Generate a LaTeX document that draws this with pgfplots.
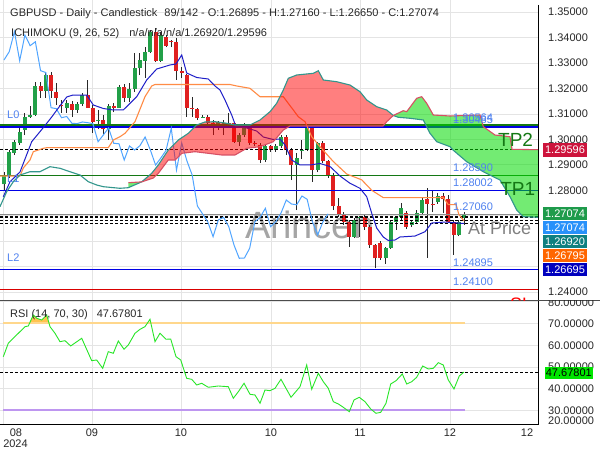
\documentclass[border=0pt]{standalone}
\usepackage{fontspec}
\setmainfont{Liberation Sans}
\usepackage{pgfplots}
\usepackage{pgfplotstable}
\pgfplotsset{compat=1.18}

\definecolor{cgreen}{RGB}{34,160,72}
\definecolor{cred}{RGB}{224,32,32}
\definecolor{tenkan}{RGB}{30,30,200}
\definecolor{kijun}{RGB}{255,140,70}
\definecolor{chikou}{RGB}{80,165,255}
\definecolor{spanA}{RGB}{50,150,140}
\definecolor{spanB}{RGB}{215,80,100}
\definecolor{gridc}{RGB}{228,228,228}
\definecolor{lvlblue}{RGB}{0,0,230}
\definecolor{lvlgreen}{RGB}{20,120,20}
\definecolor{lbl}{RGB}{80,130,240}
\definecolor{txt}{RGB}{40,40,40}
\definecolor{rsig}{RGB}{40,230,40}
\definecolor{cloudR}{RGB}{255,0,0}
\definecolor{cloudG}{RGB}{0,220,0}

% green candles: i O H L C
\pgfplotstableread{
i O H L C
0 1.28235 1.28718 1.28011 1.28573
1 1.28550 1.29583 1.28483 1.29516
2 1.29477 1.29977 1.29387 1.29887
3 1.29847 1.30449 1.29780 1.30303
4 1.30370 1.31038 1.30173 1.30869
5 1.30893 1.31313 1.30842 1.30940
6 1.30959 1.32268 1.30920 1.32099
8 1.31914 1.32610 1.31628 1.32531
12 1.31246 1.31549 1.31038 1.31431
14 1.31156 1.31470 1.31038 1.31392
15 1.31392 1.31824 1.31313 1.31746
18 1.30724 1.31156 1.30409 1.30743
20 1.30409 1.31392 1.29977 1.31313
22 1.31246 1.32138 1.31235 1.32072
24 1.31639 1.32217 1.31470 1.31981
25 1.31981 1.33396 1.31863 1.32807
26 1.32795 1.33396 1.32531 1.33121
27 1.33093 1.33632 1.32414 1.33447
28 1.33447 1.34300 1.33396 1.34234
30 1.33093 1.34222 1.33042 1.34104
38 1.30873 1.30959 1.30842 1.30900
41 1.30606 1.30724 1.30370 1.30685
42 1.30500 1.30763 1.30173 1.30657
45 1.29910 1.30252 1.29741 1.30173
46 1.30173 1.30645 1.30095 1.30449
50 1.29190 1.29780 1.29111 1.29741
52 1.29583 1.29820 1.29505 1.29752
53 1.29741 1.30173 1.29662 1.30095
56 1.28993 1.29466 1.27225 1.29269
57 1.29536 1.29977 1.29230 1.29568
58 1.29583 1.30488 1.29544 1.30437
60 1.28797 1.29898 1.28718 1.29859
67 1.26176 1.26911 1.26124 1.26832
68 1.26911 1.26989 1.26164 1.26938
73 1.25327 1.25771 1.25103 1.25720
74 1.25743 1.26832 1.25693 1.26765
75 1.26765 1.26989 1.26439 1.26938
76 1.26962 1.27500 1.26832 1.27292
78 1.26635 1.26832 1.26557 1.26765
79 1.26765 1.27225 1.26714 1.27107
80 1.27107 1.27697 1.27068 1.27618
83 1.27539 1.27893 1.27461 1.27775
87 1.26242 1.26832 1.26203 1.26753
88 1.26895 1.27160 1.26650 1.27074
}\greentab

% red candles: i O H L C
\pgfplotstableread{
i O H L C
7 1.32099 1.32256 1.31628 1.31914
9 1.32531 1.32649 1.31628 1.31914
10 1.31875 1.32217 1.31352 1.31639
11 1.31352 1.31549 1.31038 1.31313
13 1.31392 1.31510 1.30881 1.31156
16 1.31746 1.32335 1.31235 1.31246
17 1.31246 1.31352 1.30252 1.30696
19 1.30763 1.30959 1.30173 1.30409
21 1.31313 1.31431 1.31077 1.31235
23 1.32072 1.32178 1.31470 1.31639
29 1.34234 1.34379 1.33042 1.33093
31 1.34038 1.34104 1.33632 1.33684
32 1.33868 1.33907 1.33632 1.33837
33 1.33828 1.33986 1.32335 1.32700
34 1.32689 1.32846 1.32414 1.32629
35 1.32531 1.32571 1.30893 1.31246
36 1.31242 1.31679 1.30893 1.31210
37 1.31195 1.31235 1.30763 1.30853
39 1.30893 1.30959 1.30488 1.30633
40 1.30645 1.30763 1.30173 1.30621
43 1.30645 1.31038 1.30449 1.30621
44 1.30633 1.30685 1.29859 1.29910
47 1.30449 1.30488 1.29780 1.29847
48 1.29859 1.29938 1.29741 1.29828
49 1.29780 1.29859 1.29072 1.29190
51 1.29741 1.29780 1.29505 1.29583
54 1.30095 1.30173 1.29387 1.29583
55 1.29583 1.29662 1.28404 1.28993
59 1.30437 1.30468 1.28337 1.28797
61 1.29859 1.29938 1.29072 1.29151
62 1.29151 1.29190 1.28483 1.28600
63 1.28600 1.28679 1.27225 1.27382
64 1.27382 1.27697 1.26950 1.27068
65 1.27068 1.27146 1.26635 1.26753
66 1.26753 1.26832 1.25784 1.26176
69 1.26938 1.27068 1.26439 1.26569
70 1.26569 1.26635 1.25732 1.25850
71 1.25850 1.25889 1.24934 1.25327
72 1.25928 1.26006 1.25260 1.25339
77 1.27107 1.27186 1.26478 1.26569
81 1.27657 1.28090 1.25339 1.27461
82 1.27461 1.28011 1.27146 1.27430
84 1.27775 1.27893 1.27107 1.27645
85 1.27657 1.27814 1.26753 1.26765
86 1.26765 1.26832 1.25457 1.26242
}\redtab

% Senkou span A (teal edge)
\pgfplotstableread{
i p
-0.77 1.27355
0.52 1.27945
1.78 1.28337
3.06 1.28601
4.97 1.28730
6.89 1.28730
8.80 1.28927
10.71 1.28864
12.63 1.28730
14.54 1.28601
16.13 1.28337
17.73 1.28208
19.00 1.28141
22.19 1.28078
23.78 1.28102
26.34 1.28330
28.26 1.28668
29.52 1.28994
31.43 1.29583
33.35 1.29977
35.26 1.30240
36.87 1.30566
38.45 1.30684
40.37 1.30696
42.28 1.30645
44.19 1.30566
47.06 1.30566
48.98 1.30763
50.89 1.31089
52.17 1.31419
53.43 1.31942
54.39 1.32402
56.00 1.32532
59.17 1.32598
60.13 1.32700
61.09 1.32335
63.65 1.32268
66.19 1.32138
68.10 1.31876
69.39 1.31549
71.30 1.31285
73.22 1.31156
74.48 1.30940
75.43 1.30869
77.67 1.30830
80.22 1.30763
81.50 1.30240
82.78 1.29910
85.33 1.29713
85.90 1.29583
88.52 1.29124
91.70 1.28730
94.89 1.28404
96.80 1.27748
98.09 1.27225
99.35 1.26962
102.16 1.26939
}\spanAtab

% Senkou span B (red edge)
\pgfplotstableread{
i p
23.78 1.28298
26.34 1.28330
28.56 1.28483
29.52 1.28668
31.43 1.29190
32.72 1.29190
34.00 1.29453
36.54 1.29517
39.08 1.29453
41.65 1.29387
44.19 1.29387
46.43 1.29650
48.98 1.29713
51.52 1.29910
53.43 1.30370
54.72 1.30527
72.51 1.30527
73.22 1.30696
74.48 1.30940
76.39 1.31128
77.04 1.31089
78.95 1.31616
79.91 1.31679
80.87 1.31419
82.13 1.30959
85.33 1.30920
91.07 1.30959
91.70 1.30499
93.93 1.30173
96.80 1.30106
97.19 1.29611
102.16 1.29596
}\spanBtab

\begin{document}
\begin{tikzpicture}[x=1pt,y=1pt]
\fill[white] (0,0) rectangle (600,450);
\useasboundingbox (0,0) rectangle (600,450);

\begin{axis}[
  at={(0pt,149.3pt)}, anchor=south west,
  width=538pt, height=300.7pt, scale only axis,
  xmin=-0.765, xmax=102.16, ymin=1.2366, ymax=1.354796,
  axis line style={draw=none},
  major tick length=0pt,
  xtick={-0.19,16.83,33.86,51.08,68.10,85.32}, xticklabel=\empty,
  ytick={1.24,1.25,1.26,1.27,1.28,1.29,1.30,1.31,1.32,1.33,1.34,1.35},
  yticklabels={1.24000,{},{},{},1.28000,1.29000,1.30000,1.31000,1.32000,1.33000,1.34000,1.35000},
  yticklabel pos=right,
  yticklabel style={anchor=west, inner sep=0pt, xshift=10pt, text=txt},
  ticklabel style={font=\fontsize{11}{13}\selectfont},
  grid=major, major grid style={gridc, line width=0.8pt},
]
% watermark (behind data)
\node[text=black!50, opacity=0.7, font=\fontsize{38}{40}\selectfont, inner sep=0pt] at (axis cs:58.5,1.26650) {Arincen};
% wicks
\addplot[draw=none, mark=none, forget plot, error bars/.cd, y dir=plus, y explicit, error mark=none,
  error bar style={draw=txt, line width=0.9pt}]
  table[x=i, y=L, y error expr=\thisrow{H}-\thisrow{L}] {\greentab};
\addplot[draw=none, mark=none, forget plot, error bars/.cd, y dir=plus, y explicit, error mark=none,
  error bar style={draw=txt, line width=0.9pt}]
  table[x=i, y=L, y error expr=\thisrow{H}-\thisrow{L}] {\redtab};
% bodies
\addplot[draw=none, mark=none, forget plot, error bars/.cd, y dir=plus, y explicit, error mark=none,
  error bar style={draw=cgreen, line width=4pt}]
  table[x=i, y=O, y error expr=\thisrow{C}-\thisrow{O}] {\greentab};
\addplot[draw=none, mark=none, forget plot, error bars/.cd, y dir=plus, y explicit, error mark=none,
  error bar style={draw=cred, line width=4pt}]
  table[x=i, y=C, y error expr=\thisrow{O}-\thisrow{C}] {\redtab};

% level lines
\addplot[lvlgreen, line width=1.2pt] coordinates {(-0.765,1.30564) (102.16,1.30564)};
\addplot[lvlblue, line width=1.2pt] coordinates {(-0.765,1.30485) (102.16,1.30485)};
\addplot[black, line width=0.9pt, dash pattern=on 3pt off 2pt] coordinates {(-0.765,1.29596) (102.16,1.29596)};
\addplot[lvlgreen, line width=1.2pt] coordinates {(-0.765,1.28590) (102.16,1.28590)};
\addplot[lvlblue, line width=1.2pt] coordinates {(-0.765,1.28002) (102.16,1.28002)};
\addplot[black!45, line width=1.2pt] coordinates {(-0.765,1.27060) (102.16,1.27060)};
\addplot[black, line width=0.9pt, dash pattern=on 3pt off 2pt] coordinates {(-0.765,1.26980) (102.16,1.26980)};
\addplot[black, line width=0.9pt, dash pattern=on 3pt off 2pt] coordinates {(-0.765,1.26920) (102.16,1.26920)};
\addplot[black, line width=0.9pt, dash pattern=on 3pt off 2pt] coordinates {(-0.765,1.26795) (102.16,1.26795)};
\addplot[black, line width=0.9pt, dash pattern=on 3pt off 2pt] coordinates {(-0.765,1.26695) (102.16,1.26695)};
\addplot[lvlblue, line width=1.2pt] coordinates {(-0.765,1.24895) (102.16,1.24895)};
\addplot[red!85!black, line width=1.2pt] coordinates {(-0.765,1.24100) (102.16,1.24100)};

% chikou
\addplot[chikou, line width=1pt] coordinates {
(0,1.33121) (1,1.33447) (2,1.34234) (3,1.33093) (4,1.34104) (5,1.33684) (6,1.33837) (7,1.32700) (8,1.32629) (9,1.31246)
(10,1.31210) (11,1.30853) (12,1.30900) (13,1.30633) (14,1.30621) (15,1.30685) (16,1.30657) (17,1.30621) (18,1.29910) (19,1.30173)
(20,1.30449) (21,1.29847) (22,1.29828) (23,1.29190) (24,1.29741) (25,1.29583) (26,1.29752) (27,1.30095) (28,1.29583) (29,1.28993)
(30,1.29269) (31,1.29568) (32,1.30437) (33,1.28797) (34,1.29859) (35,1.29151) (36,1.28600) (37,1.27382) (38,1.27068) (39,1.26753)
(40,1.26176) (41,1.26832) (42,1.26938) (43,1.26569) (44,1.25850) (45,1.25327) (46,1.25339) (47,1.25720) (48,1.26765) (49,1.26938)
(50,1.27292) (51,1.26569) (52,1.26765) (53,1.27107) (54,1.27618) (55,1.27461) (56,1.27430) (57,1.27775) (58,1.27645) (59,1.26765)
(60,1.26242) (61,1.26753) (62,1.27074)};
% kijun
\addplot[kijun, line width=1.1pt] coordinates {
(-0.77,1.28561) (3.06,1.28561) (3.69,1.28876) (4.97,1.29190) (5.61,1.29517) (7.52,1.29650) (8.17,1.29674) (19.95,1.29674)
(20.91,1.29977) (22.19,1.30106) (23.15,1.30240) (25.06,1.30696) (26.97,1.31678) (28.26,1.32099) (28.89,1.32158) (43.24,1.32158)
(44.52,1.32100) (47.06,1.32008) (48.98,1.31678) (53.43,1.31678) (55.35,1.31156) (56.30,1.30893) (57.59,1.30696) (58.87,1.30106)
(60.45,1.29713) (63.00,1.29130) (65.56,1.28640) (68.43,1.28411) (70.35,1.28000) (72.56,1.27711) (84.04,1.27711) (85.00,1.27436)
(86.50,1.27436) (87.00,1.27062) (88.00,1.26795)};
% tenkan
\addplot[tenkan, line width=1pt] coordinates {
(-0.13,1.27748) (1.15,1.28337) (3.06,1.28719) (5.30,1.29910) (7.46,1.30448) (9.13,1.30880) (10.39,1.31234) (12.00,1.31667)
(13.20,1.31745) (15.82,1.31745) (17.08,1.31352) (19.00,1.31215) (20.91,1.31156) (22.82,1.31156) (25.39,1.31678) (27.30,1.32335)
(29.21,1.32767) (31.76,1.32925) (32.91,1.32964) (34.00,1.33318) (34.95,1.32610) (36.87,1.32433) (39.08,1.32374) (40.37,1.32099)
(41.32,1.31942) (42.28,1.31549) (43.56,1.30959) (44.38,1.30499) (46.43,1.30448) (48.34,1.30330) (49.61,1.30094) (51.52,1.29996)
(52.80,1.30016) (53.76,1.29780) (55.04,1.29190) (56.63,1.28994) (58.54,1.28994) (60.45,1.29053) (62.37,1.28935) (64.28,1.28561)
(66.19,1.28275) (68.10,1.28078) (69.39,1.27748) (70.35,1.27095) (71.30,1.26517) (72.56,1.26164) (73.52,1.26026) (74.80,1.26046)
(75.76,1.26164) (78.63,1.26202) (80.54,1.26371) (81.82,1.26713) (84.37,1.26753) (88.00,1.26695)};

% cloud fills (span A above span B: red; span B above span A: green)
\addplot[fill=cloudG, fill opacity=0.55, draw=none] coordinates {
(23.78,1.28102) (26.34,1.28330) (23.78,1.28298)} -- cycle;
\addplot[fill=cloudR, fill opacity=0.5, draw=none] coordinates {
(26.34,1.28330) (28.26,1.28668) (29.52,1.28994) (31.43,1.29583) (33.35,1.29977) (35.26,1.30240) (36.87,1.30566) (38.45,1.30684)
(40.37,1.30696) (42.28,1.30645) (44.19,1.30566) (47.06,1.30566) (48.98,1.30763) (50.89,1.31089) (52.17,1.31419) (53.43,1.31942)
(54.39,1.32402) (56.00,1.32532) (59.17,1.32598) (60.13,1.32700) (61.09,1.32335) (63.65,1.32268) (66.19,1.32138) (68.10,1.31876)
(69.39,1.31549) (71.30,1.31285) (73.22,1.31156) (74.48,1.30940)
(73.22,1.30696) (72.51,1.30527) (54.72,1.30527) (53.43,1.30370) (51.52,1.29910) (48.98,1.29713) (46.43,1.29650) (44.19,1.29387)
(41.65,1.29387) (39.08,1.29453) (36.54,1.29517) (34.00,1.29453) (32.72,1.29190) (31.43,1.29190) (29.52,1.28668) (28.56,1.28483)} -- cycle;
\addplot[fill=cloudG, fill opacity=0.55, draw=none] coordinates {
(74.48,1.30940) (76.39,1.31128) (77.04,1.31089) (78.95,1.31616) (79.91,1.31679) (80.87,1.31419) (82.13,1.30959) (85.33,1.30920)
(91.07,1.30959) (91.70,1.30499) (93.93,1.30173) (96.80,1.30106) (97.19,1.29611) (102.16,1.29596)
(102.16,1.26939) (99.35,1.26962) (98.09,1.27225) (96.80,1.27748) (94.89,1.28404) (91.70,1.28730) (88.52,1.29124) (85.90,1.29583)
(85.33,1.29713) (82.78,1.29910) (81.50,1.30240) (80.22,1.30763) (77.67,1.30830) (75.43,1.30869)} -- cycle;
\addplot[spanA, line width=1.1pt] table[x=i, y=p] {\spanAtab};
\addplot[spanB, line width=1.1pt] table[x=i, y=p] {\spanBtab};

% labels
\begin{scope}[every node/.style={font=\fontsize{11}{13}\selectfont, text=lbl, anchor=west, inner sep=0pt}]
\node at (axis cs:85.90,1.30841) {1.30564};
\node at (axis cs:85.90,1.30763) {1.30485};
\node at (axis cs:85.90,1.28895) {1.28590};
\node at (axis cs:85.90,1.28305) {1.28002};
\node at (axis cs:85.90,1.27342) {1.27060};
\node at (axis cs:85.90,1.25160) {1.24895};
\node at (axis cs:85.90,1.24394) {1.24100};
\node at (axis cs:0.57,1.30959) {L0};
\node at (axis cs:0.57,1.28443) {L1};
\node at (axis cs:0.57,1.25338) {L2};
\end{scope}
\node[anchor=west, inner sep=0pt, text=lvlgreen, font=\fontsize{19}{22}\selectfont] at (axis cs:94.5,1.29977) {TP2};
\node[anchor=west, inner sep=0pt, text=lvlgreen, font=\fontsize{19}{22}\selectfont] at (axis cs:94.9,1.28050) {TP1};
\node[anchor=west, inner sep=0pt, text=black!50, font=\fontsize{18}{21}\selectfont] at (axis cs:88.77,1.26498) {At Price};
\end{axis}

\begin{axis}[
  at={(0pt,25pt)}, anchor=south west,
  width=538pt, height=124.3pt, scale only axis,
  xmin=-0.765, xmax=102.16, ymin=23.33, ymax=80.48,
  axis line style={draw=none},
  major tick length=0pt,
  xtick={-0.19,16.83,33.86,51.08,68.10,85.32}, xticklabels={{},09,10,10,11,12},
  extra x ticks={100.06}, extra x tick labels={12}, extra x tick style={grid=none},
  ytick={30,40,50,60,70,80},
  yticklabels={30.00000,40.00000,50.00000,60.00000,70.00000,{}},
  yticklabel pos=right,
  yticklabel style={anchor=west, inner sep=0pt, xshift=10pt, text=txt},
  xticklabel style={text=txt},
  ticklabel style={font=\fontsize{11}{13}\selectfont},
  grid=major, major grid style={gridc, line width=0.8pt},
]
\addplot[fill={rgb,255:red,255;green,195;blue,80}, draw=none] coordinates {
(4.87,70) (5.61,73.91) (6.26,72.39) (7.21,71.61) (8.17,73.91) (8.63,70)} -- cycle;
\addplot[draw={rgb,255:red,255;green,215;blue,140}, line width=2pt] coordinates {(-0.19,70) (88.2,70)};
\addplot[draw={rgb,255:red,190;green,150;blue,240}, line width=2pt] coordinates {(-0.19,30) (88.2,30)};
\addplot[black, line width=0.9pt, dash pattern=on 3pt off 2pt] coordinates {(-0.765,47.678) (102.16,47.678)};
\addplot[rsig, line width=0.9pt] coordinates {
(-0.13,54.74) (0.82,60.90) (2.74,65.49) (4.02,68.53) (4.65,68.85) (5.61,73.91) (6.26,72.39) (7.21,71.61) (8.17,73.91) (8.80,68.53)
(9.76,65.49) (10.71,61.63) (11.67,62.09) (12.76,59.66) (14.87,63.20) (16.78,52.90) (17.73,53.22) (18.88,49.40) (19.95,57.03) (20.91,56.30)
(21.87,61.95) (22.96,58.14) (23.78,60.11) (25.06,65.49) (26.02,67.33) (26.97,68.53) (27.93,71.93) (28.89,61.63) (29.84,65.49) (30.99,62.74)
(31.89,62.87) (32.91,54.74) (33.81,53.22) (34.95,44.80) (35.91,44.34) (36.87,41.72) (37.82,42.51) (39.08,40.67) (41.00,41.26) (42.91,40.94)
(43.87,35.61) (44.83,38.64) (45.92,42.51) (47.06,37.45) (48.02,37.13) (48.98,33.31) (49.93,39.43) (50.89,39.10) (51.85,40.21) (52.99,44.35)
(53.95,40.21) (54.91,36.07) (56.63,40.94) (57.91,50.92) (58.87,39.75) (60.13,47.10) (61.09,43.24) (62.04,40.21) (63.00,34.05) (63.96,32.99)
(64.91,31.47) (66.06,29.45) (66.96,34.83) (67.97,36.07) (69.06,34.05) (70.16,30.69) (71.17,28.71) (72.07,29.17) (73.08,33.31) (73.98,42.18)
(75.00,43.70) (76.20,46.78) (77.04,42.18) (78.00,43.24) (78.95,45.26) (80.10,50.46) (81.18,49.08) (82.13,49.40) (83.09,51.98) (84.04,50.92)
(85.00,44.02) (86.09,39.89) (87.10,45.86) (88.00,47.678)};
\end{axis}

% frame lines
\draw[black, line width=1pt] (538,445) -- (538,25);
\draw[black, line width=1pt] (0,25) -- (538,25);
\draw[black!70, line width=0.9pt] (0,149.3) -- (600,149.3);

% clipped labels
\begin{scope}
\clip (0,149.3) rectangle (538,450);
\node[anchor=west, inner sep=0pt, text=red, font=\fontsize{18}{21}\selectfont] at (510,146) {SL};
\end{scope}
\begin{scope}
\clip (539,0) rectangle (600,149.3);
\node[anchor=west, inner sep=0pt, text=txt, font=\fontsize{11}{13}\selectfont] at (548,147.3) {80.00000};
\end{scope}
\node[anchor=west, inner sep=0pt, text=txt, font=\fontsize{11}{13}\selectfont] at (548,29) {20.00000};

% value boxes
\begin{scope}[every node/.style={inner sep=0pt, minimum width=44pt, minimum height=13.3pt, text=white, font=\fontsize{11}{13}\selectfont}]
\node[fill={rgb,255:red,205;green,20;blue,60}] at (565,300) {1.29596};
\node[fill={rgb,255:red,30;green,155;blue,75}] at (565,236.3) {1.27074};
\node[fill={rgb,255:red,40;green,145;blue,250}] at (565,222.3) {1.27074};
\node[fill={rgb,255:red,15;green,128;blue,128}] at (565,208.3) {1.26920};
\node[fill={rgb,255:red,255;green,102;blue,0}] at (565,194.3) {1.26795};
\node[fill={rgb,255:red,0;green,0;blue,190}] at (565,180.7) {1.26695};
\end{scope}
\node[inner sep=0pt, minimum width=47.7pt, minimum height=12.6pt, text=black, fill={rgb,255:red,0;green,230;blue,0}, font=\fontsize{11}{13}\selectfont] at (568.8,77) {47.67801};

% headers
\begin{scope}[every node/.style={anchor=west, inner sep=0pt, text=txt, font=\fontsize{11}{13}\selectfont}]
\node at (10,436) {GBPUSD - Daily - Candlestick\hspace{7pt}89/142 - O:1.26895 - H:1.27160 - L:1.26650 - C:1.27074};
\node at (11,416) {ICHIMOKU (9, 26, 52)\hspace{10pt}n/a/n/a/n/a/1.26920/1.29596};
\node at (10,135) {RSI (14, 70, 30)\hspace{9pt}47.67801};
\end{scope}
\node[inner sep=0pt, text=txt, font=\fontsize{11}{13}\selectfont] at (16,17.5) {08};
\node[inner sep=0pt, text=txt, font=\fontsize{11}{13}\selectfont] at (15.5,6.5) {2024};
\end{tikzpicture}
\end{document}
